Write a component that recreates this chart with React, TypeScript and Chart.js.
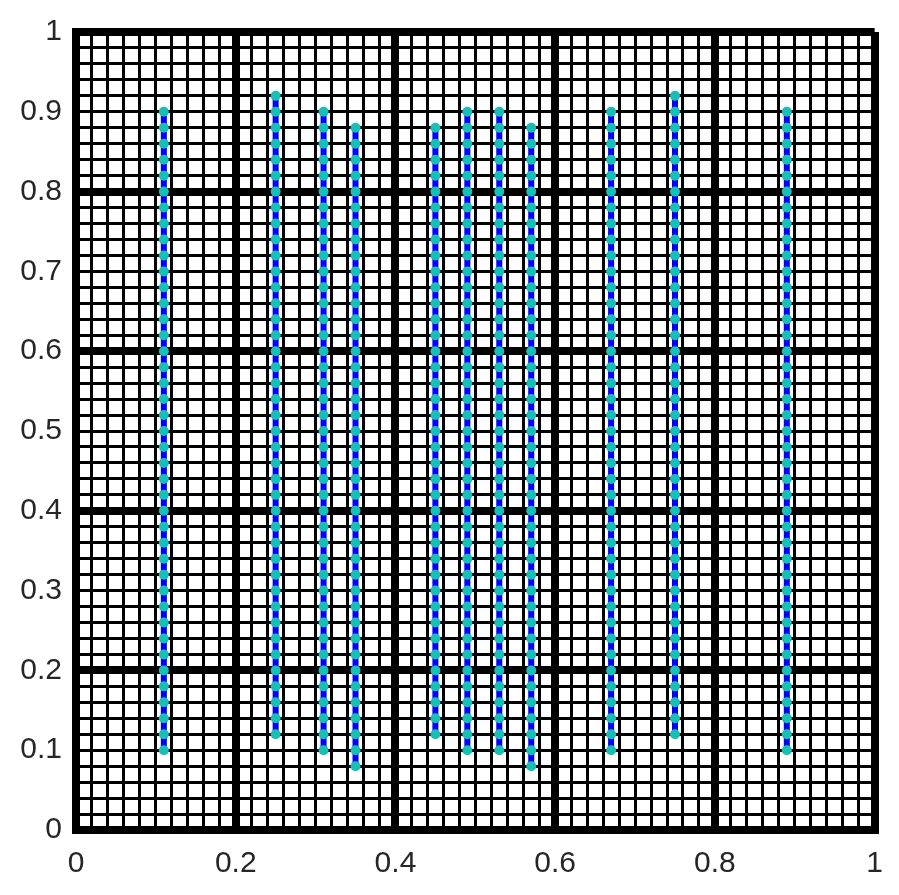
import React, { useEffect, useRef } from "react";
import { Chart, registerables } from "chart.js";

Chart.register(...registerables);

// x position of each vertical series
const X_POS = [0.11, 0.25, 0.31, 0.35, 0.45, 0.49, 0.53, 0.57, 0.67, 0.75, 0.89];
// lowest and highest y of each series
const Y_LOW = [0.1, 0.12, 0.1, 0.08, 0.12, 0.1, 0.1, 0.08, 0.1, 0.12, 0.1];
const Y_HIGH = [0.9, 0.92, 0.9, 0.88, 0.88, 0.9, 0.9, 0.88, 0.9, 0.92, 0.9];
// sampled y levels where the markers sit
const Y_LEVELS = [
  0.08, 0.1, 0.12, 0.14, 0.16, 0.18, 0.2, 0.22, 0.24, 0.26, 0.28, 0.3, 0.32, 0.34,
  0.36, 0.38, 0.4, 0.42, 0.44, 0.46, 0.48, 0.5, 0.52, 0.54, 0.56, 0.58, 0.6, 0.62,
  0.64, 0.66, 0.68, 0.7, 0.72, 0.74, 0.76, 0.78, 0.8, 0.82, 0.84, 0.86, 0.88, 0.9, 0.92,
];
const X_LABEL_EVERY = 20; // in hundredths
const Y_LABEL_EVERY = 10;
const MAJOR_EVERY = 20;

const FONT = { family: "'Liberation Sans', Arial, Helvetica, sans-serif", size: 30 };
const TEXT = "#262626";

export default function App() {
  const ref = useRef<HTMLCanvasElement | null>(null);

  useEffect(() => {
    if (!ref.current) return;
    const datasets = X_POS.map((x, i) => ({
      label: "s" + i,
      data: Y_LEVELS.filter((y) => y >= Y_LOW[i] - 1e-9 && y <= Y_HIGH[i] + 1e-9).map((y) => ({ x, y })),
      showLine: true,
      borderColor: "#0000ff",
      borderWidth: 6,
      pointRadius: 5,
      pointBorderWidth: 0,
      pointBackgroundColor: "#17bfb6",
      pointHoverRadius: 5,
    }));

    const gridWidth = (ctx: any) => {
      const v = Math.round(ctx.tick.value * 100);
      return v % MAJOR_EVERY === 0 ? 8 : 3;
    };

    const chart = new Chart(ref.current, {
      type: "scatter",
      data: { datasets },
      options: {
        animation: false,
        responsive: false,
        layout: { padding: { left: 0, top: 30, right: 21, bottom: 0 } },
        plugins: { legend: { display: false }, tooltip: { enabled: false } },
        scales: {
          x: {
            type: "linear",
            min: 0,
            max: 1,
            border: { display: true, width: 8, color: "#000" },
            grid: { color: "#000", lineWidth: gridWidth, drawTicks: false },
            ticks: {
              stepSize: 0.02,
              autoSkip: false,
              maxRotation: 0,
              minRotation: 0,
              padding: 16,
              color: TEXT,
              font: FONT,
              callback: (v: any) => {
                const h = Math.round(Number(v) * 100);
                return h % X_LABEL_EVERY === 0 ? String(h / 100) : "";
              },
            },
            afterFit: (s: any) => {
              s.height = 65;
            },
          },
          y: {
            type: "linear",
            min: 0,
            max: 1,
            border: { display: true, width: 8, color: "#000" },
            grid: { color: "#000", lineWidth: gridWidth, drawTicks: false },
            ticks: {
              stepSize: 0.02,
              autoSkip: false,
              padding: 14,
              color: TEXT,
              font: FONT,
              callback: (v: any) => {
                const h = Math.round(Number(v) * 100);
                return h % Y_LABEL_EVERY === 0 ? String(h / 100) : "";
              },
            },
            afterFit: (s: any) => {
              s.width = 76;
            },
          },
        },
      },
    });
    return () => chart.destroy();
  }, []);

  return (
    <div style={{ position: "fixed", left: 0, top: 0, width: 899, height: 895, background: "#fff" }}>
      <canvas ref={ref} width={899} height={895} style={{ display: "block" }} />
    </div>
  );
}
